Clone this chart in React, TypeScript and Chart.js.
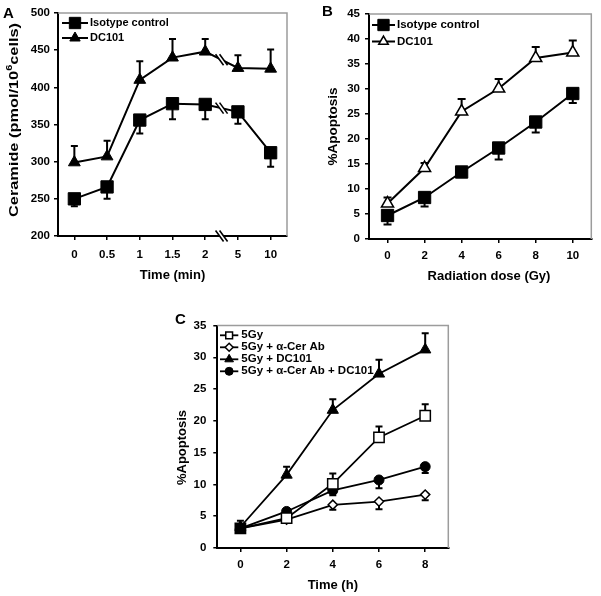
import React, { useEffect, useRef } from 'react';
import { Chart, registerables } from 'chart.js';
import { drawPoint } from 'chart.js/helpers';

Chart.register(...registerables);

const FONT = "'Liberation Sans', Arial, Helvetica, sans-serif";
Chart.defaults.font.family = FONT;
Chart.defaults.color = '#000';

// ---------- Panel A: ceramide vs time ----------
const timeLabelsA = ['0', '0.5', '1', '1.5', '2', '5', '10'];
const isotypeA = [250, 266, 356, 378, 377, 367, 312];
const isotypeAErrLow = [240, 250, 338, 357, 357, 351, 293];
const dc101A = [299, 307, 410, 440, 448, 426, 425];
const dc101AErrHigh = [321, 328, 435, 465, 465, 443, 451];
const yTicksA = { min: 200, max: 500, step: 50 };

// ---------- Panel B: apoptosis vs radiation dose ----------
const doseLabelsB = ['0', '2', '4', '6', '8', '10'];
const isotypeB = [4.7, 8.3, 13.4, 18.2, 23.4, 29.1];
const isotypeBErrLow = [2.9, 6.5, 12.6, 15.9, 21.3, 27.2];
const dc101B = [7.1, 14.2, 25.5, 30.1, 36.2, 37.3];
const dc101BErrHigh = [8.3, 15.2, 28.0, 32.0, 38.4, 39.7];
const yTicksB = { min: 0, max: 45, step: 5 };

// ---------- Panel C: apoptosis vs time ----------
const timeC = [0, 2, 4, 6, 8];
const gy5 = [3.1, 4.7, 10.1, 17.4, 20.8];
const gy5ErrHigh = [null, null, 11.7, 19.1, 22.6];
const gy5Cer = [3.1, 4.45, 6.8, 7.3, 8.4];
const gy5CerErrLow = [null, 4.1, 6.0, 6.1, 7.5];
const gy5Dc = [3.3, 11.5, 21.7, 27.4, 31.2];
const gy5DcErrHigh = [4.3, 12.8, 23.4, 29.6, 33.8];
const gy5CerDc = [3.1, 5.75, 9.05, 10.7, 12.8];
const gy5CerDcErrLow = [null, null, 8.3, 9.4, 11.8];
const yTicksC = { min: 0, max: 35, step: 5 };

// ---------- plugins ----------
function makeErrorBars(cap: number) {
  return {
    id: 'errorBars',
    beforeDatasetsDraw(chart: any) {
      const ctx = chart.ctx;
      const yScale = chart.scales.y;
      chart.data.datasets.forEach((ds: any, i: number) => {
        if (!ds.errorEnds) return;
        const meta = chart.getDatasetMeta(i);
        ctx.save();
        ctx.strokeStyle = '#000';
        ctx.lineWidth = 2;
        ds.errorEnds.forEach((end: number | null, j: number) => {
          if (end == null) return;
          const pt = meta.data[j];
          const y2 = yScale.getPixelForValue(end);
          ctx.beginPath();
          ctx.moveTo(pt.x, pt.y);
          ctx.lineTo(pt.x, y2);
          ctx.moveTo(pt.x - cap, y2);
          ctx.lineTo(pt.x + cap, y2);
          ctx.stroke();
        });
        ctx.restore();
      });
    },
  };
}

const framePlugin = {
  id: 'frame',
  beforeDatasetsDraw(chart: any) {
    const { ctx, chartArea: a } = chart;
    ctx.save();
    ctx.strokeStyle = '#9c9c9c';
    ctx.lineWidth = 1.5;
    ctx.beginPath();
    ctx.moveTo(a.left, a.top);
    ctx.lineTo(a.right, a.top);
    ctx.lineTo(a.right, a.bottom);
    ctx.stroke();
    ctx.restore();
  },
};

function makeLegend(o: { x: number; y: number; row: number; len: number; gap: number; size: number }) {
  return {
    id: 'lineLegend',
    afterDatasetsDraw(chart: any) {
      const ctx = chart.ctx;
      chart.data.datasets.forEach((ds: any, i: number) => {
        const y = o.y + i * o.row;
        ctx.save();
        ctx.strokeStyle = '#000';
        ctx.lineWidth = ds.borderWidth;
        ctx.beginPath();
        ctx.moveTo(o.x, y);
        ctx.lineTo(o.x + o.len, y);
        ctx.stroke();
        ctx.fillStyle = ds.legendFill;
        ctx.strokeStyle = '#000';
        ctx.lineWidth = ds.pointBorderWidth;
        drawPoint(ctx, { pointStyle: ds.pointStyle, radius: ds.legendRadius, rotation: 0, borderWidth: ds.pointBorderWidth } as any, o.x + o.len / 2, y);
        ctx.fillStyle = '#000';
        ctx.font = `bold ${o.size}px ${FONT}`;
        ctx.textBaseline = 'middle';
        ctx.textAlign = 'left';
        ctx.fillText(ds.label, o.x + o.len + o.gap, y);
        ctx.restore();
      });
    },
  };
}

type Part = { text: string; size: number; dy?: number };
type FreeItem = { parts: Part[]; x: number; y: number; rotation: number; length?: number };
function makeFreeText(items: FreeItem[]) {
  return {
    id: 'freeText',
    afterDraw(chart: any) {
      const ctx = chart.ctx;
      items.forEach((it) => {
        ctx.save();
        ctx.translate(it.x, it.y);
        ctx.rotate(it.rotation);
        const widths = it.parts.map((p) => {
          ctx.font = `bold ${p.size}px ${FONT}`;
          return ctx.measureText(p.text).width;
        });
        const total = widths.reduce((a, b) => a + b, 0);
        const sx = it.length ? it.length / total : 1;
        ctx.scale(sx, 1);
        let x = -total / 2;
        ctx.fillStyle = '#000';
        ctx.textBaseline = 'middle';
        ctx.textAlign = 'left';
        it.parts.forEach((p, k) => {
          ctx.font = `bold ${p.size}px ${FONT}`;
          ctx.fillText(p.text, x, p.dy || 0);
          x += widths[k];
        });
        ctx.restore();
      });
    },
  };
}

function makeBreak(at: number) {
  return {
    id: 'axisBreak',
    afterDatasetsDraw(chart: any) {
      const ctx = chart.ctx;
      const xs = chart.scales.x;
      const x = xs.getPixelForValue(at);
      const draw = (cx: number, cy: number) => {
        const h = 5.5, w = 4, g = 2;
        ctx.save();
        ctx.fillStyle = '#fff';
        ctx.beginPath();
        ctx.moveTo(cx - g - w, cy - h);
        ctx.lineTo(cx + g - w, cy - h);
        ctx.lineTo(cx + g + w, cy + h);
        ctx.lineTo(cx - g + w, cy + h);
        ctx.closePath();
        ctx.fill();
        ctx.strokeStyle = '#000';
        ctx.lineWidth = 1.6;
        ctx.beginPath();
        ctx.moveTo(cx - g - w, cy - h);
        ctx.lineTo(cx - g + w, cy + h);
        ctx.moveTo(cx + g - w, cy - h);
        ctx.lineTo(cx + g + w, cy + h);
        ctx.stroke();
        ctx.restore();
      };
      draw(x, chart.chartArea.bottom);
      chart.data.datasets.forEach((_: any, i: number) => {
        const meta = chart.getDatasetMeta(i);
        const a = meta.data[Math.floor(at)];
        const b = meta.data[Math.ceil(at)];
        const t = (x - a.x) / (b.x - a.x);
        draw(x, a.y + t * (b.y - a.y));
      });
    },
  };
}

// ---------- shared axis styles ----------
const tickFont = { size: 11.5, weight: 'bold' as const };
const axisGrid = { display: true, drawOnChartArea: false, drawTicks: true, tickLength: 4, color: '#000', lineWidth: 1.5 };
const axisBorder = { display: true, color: '#000', width: 2 };

function baseOptions(pad: any) {
  return {
    responsive: false,
    animation: false as const,
    events: [] as any[],
    layout: { padding: pad },
    plugins: { legend: { display: false }, tooltip: { enabled: false } },
  };
}

function configA(): any {
  return {
    type: 'line',
    data: {
      labels: timeLabelsA,
      datasets: [
        {
          label: 'Isotype control', data: isotypeA, errorEnds: isotypeAErrLow,
          borderColor: '#000', borderWidth: 2, pointStyle: 'rect', pointRadius: 8.7,
          pointBackgroundColor: '#000', pointBorderColor: '#000', pointBorderWidth: 1,
          legendRadius: 8, legendFill: '#000',
        },
        {
          label: 'DC101', data: dc101A, errorEnds: dc101AErrHigh,
          borderColor: '#000', borderWidth: 2, pointStyle: 'triangle', pointRadius: 6.8,
          pointBackgroundColor: '#000', pointBorderColor: '#000', pointBorderWidth: 1,
          legendRadius: 6, legendFill: '#000',
        },
      ],
    },
    options: {
      ...baseOptions({ top: 13, right: 13, left: 0, bottom: 0 }),
      scales: {
        x: {
          type: 'category', offset: true,
          grid: { ...axisGrid, offset: false }, border: axisBorder,
          ticks: { font: tickFont, color: '#000', padding: 8, maxRotation: 0, autoSkip: false },
          title: { display: true, text: 'Time (min)', color: '#000', font: { size: 13, weight: 'bold' }, padding: { top: 0, bottom: 17 } },
          afterFit: (s: any) => { s.height = 64; },
        },
        y: {
          min: yTicksA.min, max: yTicksA.max,
          grid: axisGrid, border: axisBorder,
          ticks: { stepSize: yTicksA.step, font: tickFont, color: '#000', padding: 4 },
          afterFit: (s: any) => { s.width = 58; },
        },
      },
    },
    plugins: [
      framePlugin, makeErrorBars(3.5), makeBreak(4.5),
      makeLegend({ x: 62, y: 23, row: 15, len: 26, gap: 2, size: 11 }),
      makeFreeText([{
        parts: [
          { text: 'Ceramide (pmol/10', size: 13.5 },
          { text: '6', size: 9, dy: -4.5 },
          { text: 'cells)', size: 13.5 },
        ],
        x: 14, y: 120, rotation: -Math.PI / 2, length: 194,
      }]),
    ],
  };
}

function configB(): any {
  return {
    type: 'line',
    data: {
      labels: doseLabelsB,
      datasets: [
        {
          label: 'Isotype control', data: isotypeB, errorEnds: isotypeBErrLow, order: 1,
          borderColor: '#000', borderWidth: 2, pointStyle: 'rect', pointRadius: 8.7,
          pointBackgroundColor: '#000', pointBorderColor: '#000', pointBorderWidth: 1,
          legendRadius: 8, legendFill: '#000',
        },
        {
          label: 'DC101', data: dc101B, errorEnds: dc101BErrHigh, order: 0,
          borderColor: '#000', borderWidth: 2, pointStyle: 'triangle', pointRadius: 7,
          pointBackgroundColor: '#fff', pointBorderColor: '#000', pointBorderWidth: 1.5,
          legendRadius: 5.5, legendFill: '#fff',
        },
      ],
    },
    options: {
      ...baseOptions({ top: 14, right: 5, left: 0, bottom: 0 }),
      scales: {
        x: {
          type: 'category', offset: true,
          grid: { ...axisGrid, offset: false }, border: axisBorder,
          ticks: { font: tickFont, color: '#000', padding: 6, maxRotation: 0, autoSkip: false },
          afterFit: (s: any) => { s.height = 61; },
        },
        y: {
          min: yTicksB.min, max: yTicksB.max,
          grid: axisGrid, border: axisBorder,
          ticks: { stepSize: yTicksB.step, font: tickFont, color: '#000', padding: 5 },
          title: { display: true, text: '%Apoptosis', color: '#000', font: { size: 13.5, weight: 'bold' }, padding: { top: 25.6, bottom: 0 } },
          afterFit: (s: any) => { s.width = 69; },
        },
      },
    },
    plugins: [
      framePlugin, makeErrorBars(4),
      makeLegend({ x: 72, y: 25, row: 16.5, len: 23, gap: 2, size: 11.5 }),
      makeFreeText([{ parts: [{ text: 'Radiation dose (Gy)', size: 13 }], x: 189, y: 276, rotation: 0 }]),
    ],
  };
}

function pts(ys: number[]) {
  return timeC.map((x, i) => ({ x, y: ys[i] }));
}

function configC(): any {
  return {
    type: 'line',
    data: {
      datasets: [
        {
          label: '5Gy', data: pts(gy5), errorEnds: gy5ErrHigh,
          borderColor: '#000', borderWidth: 1.8, pointStyle: 'rect', pointRadius: 7.3,
          pointBackgroundColor: ['#000', '#fff', '#fff', '#fff', '#fff'], pointBorderColor: '#000', pointBorderWidth: 1.5,
          legendRadius: 4.8, legendFill: '#fff',
        },
        {
          label: '5Gy + α-Cer Ab', data: pts(gy5Cer), errorEnds: gy5CerErrLow,
          borderColor: '#000', borderWidth: 1.8, pointStyle: 'rectRot', pointRadius: 4.6,
          pointBackgroundColor: '#fff', pointBorderColor: '#000', pointBorderWidth: 1.5,
          legendRadius: 4, legendFill: '#fff',
        },
        {
          label: '5Gy + DC101', data: pts(gy5Dc), errorEnds: gy5DcErrHigh,
          borderColor: '#000', borderWidth: 1.8, pointStyle: 'triangle', pointRadius: 6.5,
          pointBackgroundColor: '#000', pointBorderColor: '#000', pointBorderWidth: 1,
          legendRadius: 5, legendFill: '#000',
        },
        {
          label: '5Gy + α-Cer Ab + DC101', data: pts(gy5CerDc), errorEnds: gy5CerDcErrLow,
          borderColor: '#000', borderWidth: 1.8, pointStyle: 'circle', pointRadius: 5,
          pointBackgroundColor: '#000', pointBorderColor: '#000', pointBorderWidth: 1,
          legendRadius: 4, legendFill: '#000',
        },
      ],
    },
    options: {
      ...baseOptions({ top: 25.5, right: 21.7, left: 0, bottom: 0 }),
      scales: {
        x: {
          type: 'linear', min: -1, max: 9,
          grid: axisGrid, border: axisBorder,
          ticks: { font: tickFont, color: '#000', padding: 6, maxRotation: 0 },
          afterBuildTicks: (s: any) => { s.ticks = timeC.map((v) => ({ value: v })); },
          title: { display: true, text: 'Time (h)', color: '#000', font: { size: 13, weight: 'bold' }, padding: { top: 0, bottom: 3.2 } },
          afterFit: (s: any) => { s.height = 48; },
        },
        y: {
          min: yTicksC.min, max: yTicksC.max,
          grid: axisGrid, border: axisBorder,
          ticks: { stepSize: yTicksC.step, font: tickFont, color: '#000', padding: 7 },
          afterFit: (s: any) => { s.width = 67.3; },
        },
      },
    },
    plugins: [
      framePlugin, makeErrorBars(3.5),
      makeLegend({ x: 70, y: 35.3, row: 12, len: 18.3, gap: 3, size: 11.5 }),
      makeFreeText([{ parts: [{ text: '%Apoptosis', size: 13 }], x: 32.5, y: 147.5, rotation: -Math.PI / 2 }]),
    ],
  };
}

const letterStyle: React.CSSProperties = {
  position: 'absolute', fontFamily: FONT, fontWeight: 'bold', fontSize: 15, lineHeight: '15px', color: '#000', margin: 0,
};

export default function App() {
  const refA = useRef<HTMLCanvasElement>(null);
  const refB = useRef<HTMLCanvasElement>(null);
  const refC = useRef<HTMLCanvasElement>(null);

  useEffect(() => {
    const charts = [
      new Chart(refA.current as HTMLCanvasElement, configA()),
      new Chart(refB.current as HTMLCanvasElement, configB()),
      new Chart(refC.current as HTMLCanvasElement, configC()),
    ];
    return () => charts.forEach((c) => c.destroy());
  }, []);

  return (
    <div style={{ position: 'absolute', left: 0, top: 0, width: 601, height: 596, background: '#fff', overflow: 'hidden' }}>
      <canvas ref={refA} width={300} height={300} style={{ position: 'absolute', left: 0, top: 0, width: 300, height: 300 }} />
      <canvas ref={refB} width={301} height={300} style={{ position: 'absolute', left: 300, top: 0, width: 301, height: 300 }} />
      <canvas ref={refC} width={320} height={296} style={{ position: 'absolute', left: 150, top: 300, width: 320, height: 296 }} />
      <div style={{ ...letterStyle, left: 3, top: 5 }}>A</div>
      <div style={{ ...letterStyle, left: 322, top: 3 }}>B</div>
      <div style={{ ...letterStyle, left: 175, top: 311 }}>C</div>
    </div>
  );
}
